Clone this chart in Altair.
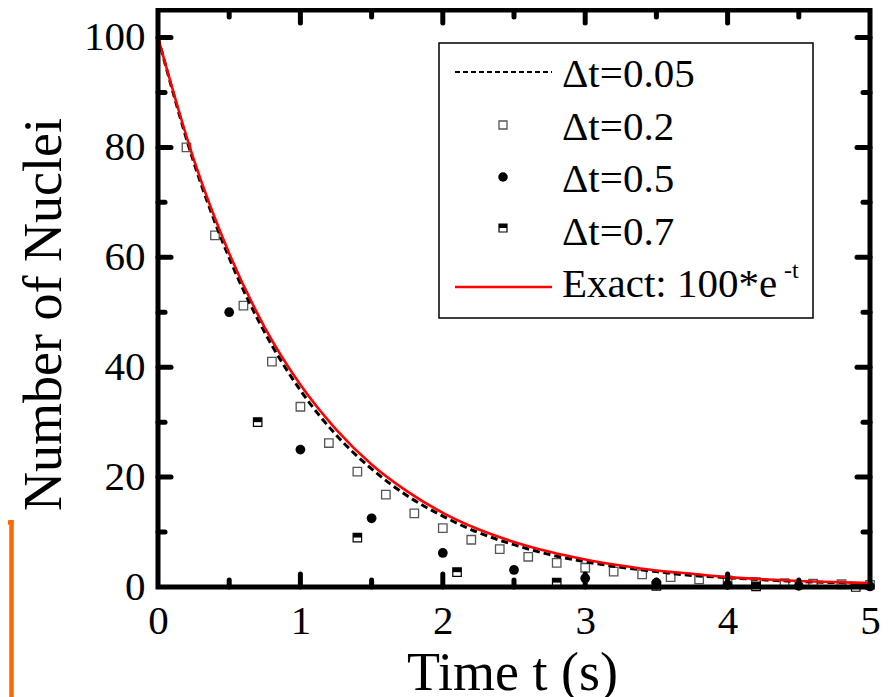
import altair as alt
import pandas as pd

# ---- data ----
t_02 = [0.2, 0.4, 0.6, 0.8, 1.0, 1.2, 1.4, 1.6, 1.8, 2.0, 2.2, 2.4, 2.6, 2.8, 3.0,
        3.2, 3.4, 3.6, 3.8, 4.0, 4.2, 4.4, 4.6, 4.8, 5.0]
n_02 = [80, 64, 51.2, 41, 32.8, 26.2, 21, 16.8, 13.4, 10.7, 8.6, 6.9, 5.5, 4.4, 3.5,
        2.8, 2.3, 1.8, 1.4, 1.2, 0.9, 0.7, 0.6, 0.5, 0.4]

t_05 = [0.5, 1.0, 1.5, 2.0, 2.5, 3.0, 3.5, 4.0, 4.5, 5.0]
n_05 = [50, 25, 12.5, 6.2, 3.1, 1.6, 0.8, 0.4, 0.2, 0.1]

t_07 = [0.7, 1.4, 2.1, 2.8, 3.5, 4.2, 4.9]
n_07 = [30, 9, 2.7, 0.8, 0.2, 0.1, 0.0]

t_line = [0, 0.25, 0.5, 0.75, 1.0, 1.25, 1.5, 1.75, 2.0, 2.25, 2.5, 2.75, 3.0,
          3.25, 3.5, 3.75, 4.0, 4.25, 4.5, 4.75, 5.0]
n_005 = [100, 77.4, 59.9, 46.3, 35.8, 27.7, 21.5, 16.6, 12.9, 9.9, 7.7, 5.9, 4.6,
         3.6, 2.8, 2.1, 1.7, 1.3, 1.0, 0.8, 0.6]
n_exact = [100, 77.9, 60.7, 47.2, 36.8, 28.7, 22.3, 17.4, 13.5, 10.5, 8.2, 6.4, 5.0,
           3.9, 3.0, 2.4, 1.8, 1.4, 1.1, 0.9, 0.7]

x_labels = [0, 1, 2, 3, 4, 5]
y_labels = [0, 20, 40, 60, 80, 100]
x_major = [1, 2, 3, 4]
x_minor = [0.5, 1.5, 2.5, 3.5, 4.5]
y_major = [20, 40, 60, 80, 100]
y_minor = [10, 30, 50, 70, 90]

legend_labels = ["\u0394t=0.05", "\u0394t=0.2", "\u0394t=0.5", "\u0394t=0.7", "Exact: 100*e"]

# ---- layout ----
W, H = 712, 577
FONT = "'Liberation Serif', 'Times New Roman', Times, 'DejaVu Serif', serif"
xs = alt.Scale(domain=[0, 5], nice=False, zero=False)
ys = alt.Scale(domain=[0, 105], nice=False)

x_axis = alt.Axis(values=x_labels, format="d", title="Time t (s)",
                  titleX=354, titleY=102, titleBaseline="alphabetic", titleAlign="center",
                  labelPadding=14, labelFlush=False, labelOverlap=False)
y_axis = alt.Axis(values=y_labels, format="d", title="Number of Nuclei",
                  titleX=-98, titleY=304, titleBaseline="alphabetic", titleAlign="center",
                  labelPadding=13, labelFlush=False, labelOverlap=False)

one = pd.DataFrame({"a": [0]})

def X(f):
    return alt.X(f + ":Q", scale=xs, axis=x_axis)

def Y(f):
    return alt.Y(f + ":Q", scale=ys, axis=y_axis)

df02 = pd.DataFrame({"t": t_02, "n": n_02})
df05 = pd.DataFrame({"t": t_05, "n": n_05})
df07 = pd.DataFrame({"t": t_07, "n": n_07})
dfl = pd.DataFrame({"t": t_line, "n005": n_005, "ex": n_exact})

HALF_TOP = "M-1,-1L1,-1L1,0L-1,0Z"

squares = alt.Chart(df02).mark_point(shape="square", filled=False, size=72,
                                     color="#555555", strokeWidth=1.3, opacity=1).encode(x=X("t"), y=Y("n"))
circles = alt.Chart(df05).mark_point(shape="circle", filled=True, size=95,
                                     color="black", opacity=1).encode(x=X("t"), y=Y("n"))
half_open = alt.Chart(df07).mark_point(shape="square", filled=False, size=72,
                                       color="black", strokeWidth=1.2, opacity=1).encode(x=X("t"), y=Y("n"))
half_fill = alt.Chart(df07).mark_point(shape=HALF_TOP, filled=True, size=72,
                                       color="black", opacity=1).encode(x=X("t"), y=Y("n"))
dashed = alt.Chart(dfl).mark_line(color="black", strokeWidth=3, strokeDash=[7, 4],
                                  interpolate="monotone").encode(x=X("t"), y=Y("n005"))
exact = alt.Chart(dfl).mark_line(color="#ff0000", strokeWidth=2.6,
                                 interpolate="monotone").encode(x=X("t"), y=Y("ex"))

# ---- frame and inward ticks ----
frame = alt.Chart(one).mark_rect(fill="transparent", stroke="black", strokeWidth=5,
                                 strokeJoin="miter").encode(
    x=alt.value(0), x2=alt.value(W), y=alt.value(0), y2=alt.value(H))

def yticks(vals, x0, x1):
    return alt.Chart(pd.DataFrame({"v": vals})).mark_rule(
        color="black", strokeWidth=5, strokeCap="round").encode(
        y=alt.Y("v:Q", scale=ys, axis=y_axis), x=alt.value(x0), x2=alt.value(x1))

def xticks(vals, y0, y1):
    return alt.Chart(pd.DataFrame({"v": vals})).mark_rule(
        color="black", strokeWidth=5, strokeCap="round").encode(
        x=alt.X("v:Q", scale=xs, axis=x_axis), y=alt.value(y0), y2=alt.value(y1))

ticks = [
    yticks(y_major, 0, 13), yticks(y_minor, 0, 7),
    yticks(y_major, W - 13, W), yticks(y_minor, W - 7, W),
    xticks(x_major, H, H - 13), xticks(x_minor, H, H - 7),
    xticks(x_major, 0, 13), xticks(x_minor, 0, 7),
]

# ---- legend ----
legend_box = alt.Chart(one).mark_rect(fill="white", stroke="black", strokeWidth=1.5).encode(
    x=alt.value(281), x2=alt.value(655), y=alt.value(33), y2=alt.value(308))
leg_dash = alt.Chart(one).mark_rule(color="black", strokeWidth=2, strokeDash=[5, 3]).encode(
    x=alt.value(297), x2=alt.value(394), y=alt.value(62))
leg_red = alt.Chart(one).mark_rule(color="#ff0000", strokeWidth=2.6).encode(
    x=alt.value(297), x2=alt.value(394), y=alt.value(277))
leg_sq = alt.Chart(one).mark_point(shape="square", filled=False, size=64, color="#555555",
                                   strokeWidth=1.3, opacity=1).encode(x=alt.value(345), y=alt.value(115))
leg_ci = alt.Chart(one).mark_point(shape="circle", filled=True, size=90, color="black",
                                   opacity=1).encode(x=alt.value(345), y=alt.value(167))
leg_h1 = alt.Chart(one).mark_point(shape="square", filled=False, size=64, color="black",
                                   strokeWidth=1.2, opacity=1).encode(x=alt.value(345), y=alt.value(218))
leg_h2 = alt.Chart(one).mark_point(shape=HALF_TOP, filled=True, size=64, color="black",
                                   opacity=1).encode(x=alt.value(345), y=alt.value(218))

leg_texts = []
for i, lab in enumerate(legend_labels):
    leg_texts.append(alt.Chart(one).mark_text(
        text=lab, font=FONT, fontSize=41, align="left", baseline="alphabetic", color="black").encode(
        x=alt.value(404), y=alt.value(77 + 52.5 * i)))
sup = alt.Chart(one).mark_text(text="-t", font=FONT, fontSize=24, align="left",
                               baseline="alphabetic", color="black").encode(
    x=alt.value(626), y=alt.value(268))

# ---- cropping remnant at the left edge of the picture ----
orange_v = alt.Chart(one).mark_rule(color="#ff6a00", strokeWidth=4.5).encode(
    x=alt.value(-146.5), y=alt.value(510), y2=alt.value(700))
orange_h = alt.Chart(one).mark_rule(color="#ff6a00", strokeWidth=4.5).encode(
    x=alt.value(-152), x2=alt.value(-144.5), y=alt.value(512.5))

chart = alt.layer(
    squares, circles, half_open, half_fill, dashed, exact,
    legend_box, leg_dash, leg_red, leg_sq, leg_ci, leg_h1, leg_h2, *leg_texts, sup,
    frame, *ticks, orange_v, orange_h,
).properties(
    width=W, height=H,
    autosize=alt.AutoSizeParams(type="none"),
    padding={"left": 150, "top": 2, "right": 10, "bottom": 110},
    background="white",
).configure_view(stroke=None).configure_axis(
    domain=False, ticks=False, grid=False, tickSize=0,
    labelFont=FONT, labelFontSize=41, labelColor="black",
    titleFont=FONT, titleFontSize=54, titleFontWeight="normal", titleColor="black",
)

chart.save("out.html", embed_options={"renderer": "svg", "actions": False})
